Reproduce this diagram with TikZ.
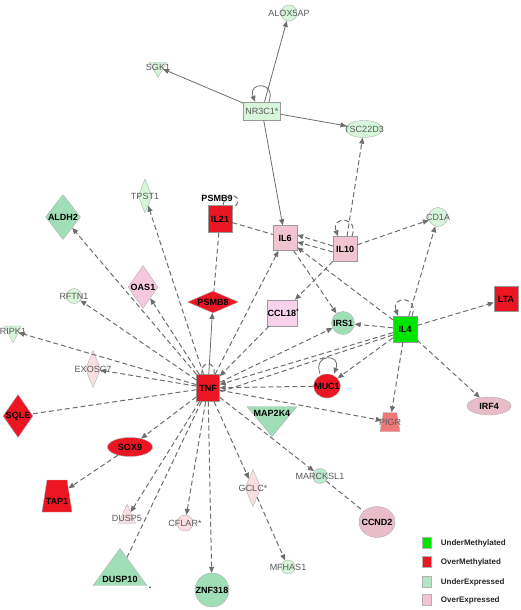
\documentclass[tikz,border=0pt]{standalone}
\usepackage{fontspec}
\setmainfont{Liberation Sans}
\usetikzlibrary{shapes.geometric,arrows.meta,positioning}
\definecolor{cUMeth}{RGB}{0,228,0}
\definecolor{cOMeth}{RGB}{236,22,34}
\definecolor{cUExp}{RGB}{160,222,184}
\definecolor{cUExpL}{RGB}{214,245,218}
\definecolor{cOExp}{RGB}{240,196,208}
\definecolor{cOExpD}{RGB}{232,188,200}
\definecolor{cOExpL}{RGB}{250,222,226}
\definecolor{cOExpP}{RGB}{246,200,222}
\definecolor{cOExpV}{RGB}{248,210,234}
\definecolor{cSalmon}{RGB}{240,120,120}
\definecolor{cEdge}{RGB}{110,110,110}
\tikzset{
myTxt/.style={
	font=\fontsize{9}{10}\selectfont\bfseries, text=black, inner sep=0pt
}
, myTxtG/.style={
	font=\fontsize{9}{10}\selectfont, text=black!65, inner sep=0pt
}
% shapes
, myBox/.style={
	rectangle, draw=black!40, inner sep=0pt,
	minimum width=24pt, minimum height=25pt
}
, myCirc/.style={circle, draw=black!30, inner sep=0pt}
, myOval/.style={ellipse, draw=black!30, inner sep=0pt}
, myDiam/.style={diamond, draw=black!30, inner sep=0pt}
, myTriUp/.style={
	isosceles triangle, isosceles triangle stretches,
	shape border rotate=90, draw=black!30, inner sep=1pt
}
, myTriDown/.style={
	isosceles triangle, isosceles triangle stretches,
	shape border rotate=270, draw=black!30, inner sep=1pt
}
, myTrap/.style={
	trapezium, trapezium stretches, trapezium left angle=76,
	trapezium right angle=76, draw=black!30, inner sep=1pt
}
% links
, myRel/.style={-{Triangle[length=6pt,width=5pt]},draw=cEdge,line width=0.8pt}
, myLink/.style={-{Triangle[length=6pt,width=5pt]},draw=cEdge,line width=1pt,
	dash pattern=on 5pt off 3pt}
, myLine/.style={draw=cEdge,line width=1pt,dash pattern=on 5pt off 3pt}
% legend
, legBox/.style={rectangle, draw=black!30, inner sep=0pt, minimum width=9pt, minimum height=11pt}
, legTxt/.style={font=\fontsize{8}{9}\selectfont\bfseries, text=black!85, inner sep=0pt}
}
\begin{document}
\begin{tikzpicture}[x=1pt,y=-1pt]
	\useasboundingbox (0,0) rectangle (520,610);
	% nodes
	\node[myCirc, fill=cUExpL, minimum size=16pt, label={[myTxtG]center:ALOX5AP}] (ALOX5AP) at (289,13) {};
	\node[myTriDown, fill=cUExpL, minimum width=17pt, minimum height=15pt, label={[myTxtG]center:SGK1}] (SGK1) at (158,67) {};
	\node[myBox, myTxtG, fill=cUExpL, minimum width=37pt, minimum height=18pt] (NR3C1) at (262,111) {NR3C1*};
	\node[myOval, fill=cUExpL, minimum width=37pt, minimum height=17pt, label={[myTxtG]center:TSC22D3}] (TSC22D3) at (364,129) {};
	\node[myDiam, fill=cUExpL, minimum width=14pt, minimum height=34pt, label={[myTxtG]center:TPST1}] (TPST1) at (145,196) {};
	\node[myDiam, fill=cUExp, minimum width=35pt, minimum height=45pt, label={[myTxt]center:ALDH2}] (ALDH2) at (63,217) {};
	\node[myTxt] (PSMB9) at (217,198) {PSMB9};
	\node[myBox, myTxt, fill=cOMeth, minimum height=27pt] (IL21) at (220,219) {IL21};
	\node[myBox, myTxt, fill=cOExp] (IL6) at (285,238) {IL6};
	\node[myBox, myTxt, fill=cOExp] (IL10) at (345,249) {IL10};
	\node[myCirc, fill=cUExpL, minimum size=19pt, label={[myTxtG]center:CD1A}] (CD1A) at (438,217) {};
	\node[myDiam, fill=cOExpP, minimum width=30pt, minimum height=43pt, label={[myTxt]center:OAS1}] (OAS1) at (143,287) {};
	\node[myDiam, fill=cOMeth, minimum width=51pt, minimum height=22pt, label={[myTxt]center:PSMB8}] (PSMB8) at (213,302) {};
	\node[myBox, myTxt, fill=cOExpV, minimum width=30pt, minimum height=26pt] (CCL18) at (282,313) {CCL18\rlap{\textsuperscript{*}}};
	\node[myCirc, fill=cUExpL, minimum size=15pt, label={[myTxtG]center:RFTN1}] (RFTN1) at (74,296) {};
	\node[myCirc, fill=cUExp, minimum size=23pt, label={[myTxt]center:IRS1}] (IRS1) at (343,323) {};
	\node[myBox, myTxt, fill=cOMeth] (LTA) at (506,299) {LTA};
	\node[myBox, myTxt, fill=cUMeth, minimum height=26pt] (IL4) at (405,329) {IL4};
	\node[myTriDown, fill=cUExpL, minimum width=17pt, minimum height=17pt, label={[myTxtG]center:RIPK1}] (RIPK1) at (13,331) {};
	\node[myDiam, fill=cOExpL, minimum width=15pt, minimum height=37pt, label={[myTxtG]center:EXOSC7}] (EXOSC7) at (93,369) {};
	\node[myBox, myTxt, fill=cOMeth, minimum width=23pt, minimum height=27pt] (TNF) at (208,388) {TNF};
	\node[myOval, fill=cOMeth, minimum width=27pt, minimum height=24pt, label={[myTxt]center:MUC1}] (MUC1) at (327,386) {};
	\node[myTriDown, fill=cUExp, minimum width=50pt, minimum height=30pt, label={[myTxt,yshift=5pt]center:MAP2K4}] (MAP2K4) at (272,418) {};
	\node[myDiam, fill=cOMeth, minimum width=30pt, minimum height=43pt, label={[myTxt]center:SQLE}] (SQLE) at (18,416) {};
	\node[myTrap, fill=cSalmon, minimum width=20pt, minimum height=19pt, label={[myTxtG]center:PIGR}] (PIGR) at (390,422) {};
	\node[myOval, fill=cOExpD, minimum width=44pt, minimum height=18pt, label={[myTxt]center:IRF4}] (IRF4) at (489,406) {};
	\node[myOval, fill=cOMeth, minimum width=45pt, minimum height=19pt, label={[myTxt]center:SOX9}] (SOX9) at (130,447) {};
	\node[myTrap, fill=cOMeth, minimum width=30pt, minimum height=32pt, label={[myTxt,yshift=-5pt]center:TAP1}] (TAP1) at (57,496) {};
	\node[myTriUp, fill=cOExpL, minimum width=17pt, minimum height=19pt, label={[myTxtG]center:DUSP5}] (DUSP5) at (127,518) {};
	\node[myCirc, fill=cOExpL, minimum size=16pt, label={[myTxtG]center:CFLAR*}] (CFLAR) at (185,523) {};
	\node[myDiam, fill=cOExpL, minimum width=16pt, minimum height=37pt, label={[myTxtG]center:GCLC*}] (GCLC) at (253,488) {};
	\node[myCirc, fill=cUExp!70!white, minimum size=15pt, label={[myTxtG]center:MARCKSL1}] (MARCKSL1) at (320,476) {};
	\node[myOval, fill=cOExpD, minimum width=36pt, minimum height=31pt, label={[myTxt]center:CCND2}] (CCND2) at (377,522) {};
	\node[myCirc, fill=cUExpL, minimum size=14pt, label={[myTxtG]center:MFHAS1}] (MFHAS1) at (288,567) {};
	\node[myTriUp, fill=cUExp, minimum width=54pt, minimum height=37pt, label={[myTxt,yshift=-7pt]center:DUSP10}] (DUSP10) at (120,572) {};
	\node[myCirc, fill=cUExp, minimum size=34pt, label={[myTxt]center:ZNF318}] (ZNF318) at (212,590) {};
	\node[myTxt] (dot) at (150,588) {.};

	% links
	\draw[myRel] (NR3C1) -- (ALOX5AP);
	\draw[myRel] (NR3C1) -- (SGK1);
	\draw[myRel] (NR3C1) -- (TSC22D3);
	\draw[myRel] (NR3C1) -- (IL6);
	\draw[myRel] ([xshift=7pt]NR3C1.north) to[out=70,in=110,looseness=4] ([xshift=-7pt]NR3C1.north);
	\draw[myRel] (TNF) -- (PSMB8);
	\draw[myRel] ([xshift=-7pt]MUC1.north) to[out=110,in=70,looseness=4] ([xshift=7pt]MUC1.north);

	\foreach \t in {ALDH2,TPST1,OAS1,RFTN1,RIPK1,EXOSC7,SOX9,DUSP5,CFLAR,ZNF318,GCLC,MARCKSL1,PIGR,IRS1,IL6}
		\draw[myLink] (TNF) -- (\t);
	\foreach \t in {SQLE,DUSP10}
		\draw[myLine] (TNF) -- (\t);
	\draw[myLink] (MUC1) -- (TNF);
	\draw[myLink] (IL4) -- (TNF);
	\draw[myLine] ([yshift=-6pt]IL4.west) -- ([yshift=-4pt]TNF.east);
	\draw[myLink] (CCL18) -- (TNF);
	\draw[myLine] ([xshift=6pt]TNF.north) to[out=80,in=100,looseness=3] ([xshift=-6pt]TNF.north);

	\draw[myLine] (IL21) -- (PSMB8);
	\draw[myLine] (IL21) -- (IL6);
	\draw[myLine] ([xshift=3pt]IL21.north) to[out=80,in=30,looseness=5] ([yshift=-3pt]IL21.north east);

	\draw[myLink] (IL10) -- (TSC22D3);
	\draw[myLink] (IL10) -- (CD1A);
	\draw[myLink] (IL10) -- (CCL18);
	\draw[myLink] ([yshift=3pt]IL10.west) -- ([yshift=3pt]IL6.east);
	\draw[myLink] ([yshift=-3pt]IL10.west) -- ([yshift=-4pt]IL6.east);
	\draw[myLink] ([xshift=7pt]IL10.north) to[out=70,in=110,looseness=4] ([xshift=-7pt]IL10.north);
	\draw[myLink] (IL6) -- (IRS1);

	\foreach \t in {IL6,CD1A,LTA,IRS1,IRF4,PIGR,MUC1}
		\draw[myLink] (IL4) -- (\t);
	\draw[myLink] ([xshift=7pt]IL4.north) to[out=70,in=110,looseness=4] ([xshift=-7pt]IL4.north);

	\draw[myLink] (SOX9) -- (TAP1);
	\draw[myLink] (GCLC) -- (MFHAS1);
	\draw[myLine] (MARCKSL1) -- (CCND2);

	% legend
	\node[legBox, fill=cUMeth] (legUM) at (427,543) {};
	\node[legBox, fill=cOMeth] (legOM) at (427,562) {};
	\node[legBox, fill=cUExp!80!white] (legUE) at (427,582) {};
	\node[legBox, fill=cOExp] (legOE) at (427,600) {};
	\node[legTxt, right=9pt of legUM] {UnderMethylated};
	\node[legTxt, right=9pt of legOM] {OverMethylated};
	\node[legTxt, right=9pt of legUE] {UnderExpressed};
	\node[legTxt, right=9pt of legOE] {OverExpressed};
\end{tikzpicture}
\end{document}
